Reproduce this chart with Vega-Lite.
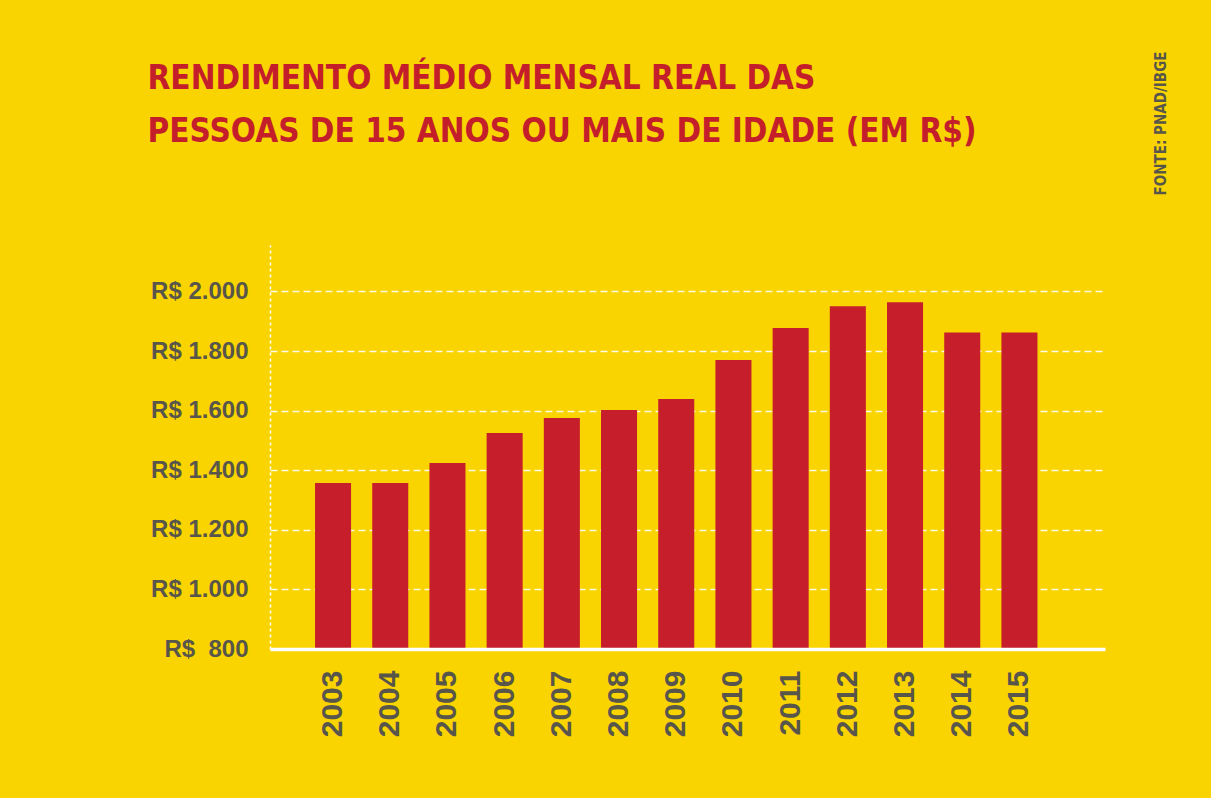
{
  "$schema": "https://vega.github.io/schema/vega-lite/v6.json",
  "width": 835,
  "height": 404,
  "autosize": {"type": "none"},
  "padding": {"left": 270, "top": 245, "right": 106, "bottom": 149},
  "background": "#FAD400",
  "config": {"view": {"stroke": null}, "font": "Liberation Sans"},
  "data": {"values": [
    {"year": "2003", "value": 1357},
    {"year": "2004", "value": 1357},
    {"year": "2005", "value": 1424},
    {"year": "2006", "value": 1525},
    {"year": "2007", "value": 1575},
    {"year": "2008", "value": 1602},
    {"year": "2009", "value": 1639},
    {"year": "2010", "value": 1770},
    {"year": "2011", "value": 1877},
    {"year": "2012", "value": 1950},
    {"year": "2013", "value": 1964},
    {"year": "2014", "value": 1862},
    {"year": "2015", "value": 1862}
  ]},
  "layer": [
    {
      "mark": {"type": "bar", "color": "#C61E2B"},
      "encoding": {
        "x": {
          "field": "year", "type": "ordinal",
          "scale": {"paddingInner": 0.37, "paddingOuter": 0.984, "align": 0.4},
          "axis": {
            "title": null, "labelAngle": 270, "labelAlign": "right", "labelBaseline": "middle",
            "labelFont": "Liberation Sans", "labelFontWeight": "bold", "labelFontSize": 30,
            "labelColor": "#58564A", "labelPadding": 21, "ticks": false, "tickSize": 0,
            "domainColor": "#FFFFFF", "domainWidth": 3.5, "grid": false, "zindex": 1
          }
        },
        "y": {
          "field": "value", "type": "quantitative",
          "scale": {"domain": [800, 2156], "nice": false, "zero": false},
          "axis": {
            "values": [800, 1000, 1200, 1400, 1600, 1800, 2000],
            "labelExpr": "'R$ ' + (datum.value < 1000 ? '\u00a0' : '') + replace(format(datum.value, ','), ',', '.')",
            "labelFont": "Liberation Sans", "labelFontWeight": "bold", "labelFontSize": 24,
            "labelColor": "#58564A", "labelPadding": 22, "ticks": false, "tickSize": 0,
            "domainColor": "#FFFFFF", "domainWidth": 1.5, "domainDash": [3, 3],
            "grid": true, "gridColor": "#FFFFFF", "gridDash": [7, 4], "gridWidth": 1.5, "gridOpacity": 0.9,
            "title": ["RENDIMENTO MÉDIO MENSAL REAL DAS", "PESSOAS DE 15 ANOS OU MAIS DE IDADE (EM R$)"],
            "titleAngle": 0, "titleAlign": "left", "titleBaseline": "alphabetic",
            "titleX": -123, "titleY": -157, "titleLineHeight": 53,
            "titleFont": "DejaVu Sans Condensed", "titleFontWeight": "bold", "titleFontSize": 33,
            "titleColor": "#C41E2B"
          }
        },
        "y2": {"datum": 800}
      }
    },
    {
      "mark": {"type": "rule", "opacity": 0},
      "encoding": {
        "y": {
          "datum": 800, "type": "quantitative",
          "axis": {
            "orient": "right", "labels": false, "ticks": false, "domain": false, "grid": false,
            "title": "FONTE: PNAD/IBGE", "titleAngle": 270, "titleAlign": "center", "titleBaseline": "middle",
            "titleX": 55, "titleY": -122, "titleFont": "DejaVu Sans Condensed", "titleFontWeight": "bold",
            "titleFontSize": 15, "titleColor": "#58564A"
          }
        }
      }
    }
  ],
  "resolve": {"axis": {"y": "independent"}}
}
